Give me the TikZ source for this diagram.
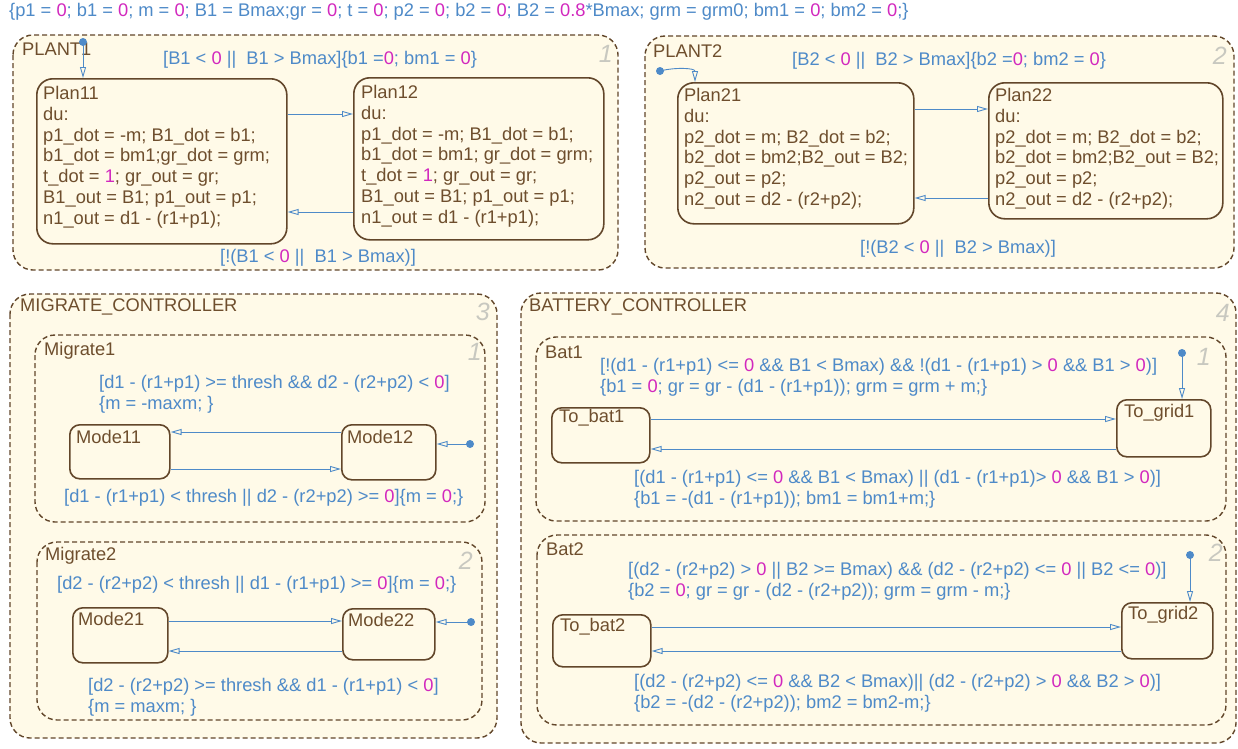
\documentclass[tikz,border=0pt]{standalone}
\usepackage{fontspec}
\setmainfont{Liberation Sans}
\usetikzlibrary{arrows.meta,calc}
\definecolor{brn}{RGB}{110,78,45}
\definecolor{bdr}{RGB}{98,70,42}
\definecolor{blu}{RGB}{78,138,200}
\definecolor{mag}{RGB}{210,40,190}
\definecolor{crm}{RGB}{255,250,232}
\definecolor{gry}{RGB}{200,200,192}
\newcommand\mz[1]{\textcolor{mag}{#1}}
\begin{document}
\begin{tikzpicture}[x=1pt,y=-1pt,
 font=\fontsize{18.3}{20.8}\selectfont,
 group/.style={draw=bdr, line width=1.4, dash pattern=on 5pt off 3pt, rounded corners=20, fill=crm},
 statebox/.style={draw=bdr, line width=1.6, rounded corners=16, fill=crm, inner sep=0, anchor=north west},
 modebox/.style={draw=bdr, line width=1.6, rounded corners=10, fill=crm, inner sep=0, anchor=north west},
 stxt/.style={text=brn, inner sep=0, anchor=north west, align=left},
 gtxt/.style={text=brn, inner sep=0, anchor=west},
 lbl/.style={text=blu, inner sep=0, anchor=west, align=left},
 num/.style={text=gry, font=\fontsize{25}{25}\selectfont\itshape, inner sep=0, anchor=east},
 tr/.style={draw=blu, line width=0.9, -{Triangle[open,length=11,width=6]}},
 dflt/.style={circle, fill=blu, inner sep=0, minimum size=8},
]
\fill[white] (0,0) rectangle (1238,748);
\useasboundingbox (0,0) rectangle (1238,748);

\node[lbl] (init) at (9,12) {\{p1 = \mz{0}; b1 = \mz{0}; m = \mz{0}; B1 = Bmax;gr = \mz{0}; t = \mz{0}; p2 = \mz{0}; b2 = \mz{0}; B2 = \mz{0.8}*Bmax; grm = grm0; bm1 = \mz{0}; bm2 = \mz{0};\}};

% ---------------- PLANT1
\draw[group] (13,35) rectangle (618,270);
\node[gtxt] (g1) at (22,49) {PLANT1};
\node[num] (n1) at (613,54) {1};
\node[statebox, minimum width=250, minimum height=165] (p11) at (36,78) {};
\node[stxt] (t11) at (43,86) {Plan11\\du:\\p1\_dot = -m; B1\_dot = b1;\\b1\_dot = bm1;gr\_dot = grm;\\t\_dot = \mz{1}; gr\_out = gr;\\B1\_out = B1; p1\_out = p1;\\n1\_out = d1 - (r1+p1);};
\node[statebox, minimum width=250, minimum height=162] (p12) at (353,77) {};
\node[stxt] (t12) at (361,85) {Plan12\\du:\\p1\_dot = -m; B1\_dot = b1;\\b1\_dot = bm1; gr\_dot = grm;\\t\_dot = \mz{1}; gr\_out = gr;\\B1\_out = B1; p1\_out = p1;\\n1\_out = d1 - (r1+p1);};
\coordinate (ya) at (0,114);
\coordinate (yb) at (0,212);
\draw[tr] (p11.east |- ya) -- (p12.west |- ya);
\draw[tr] (p12.west |- yb) -- (p11.east |- yb);
\node[lbl] (l11) at (163,60) {[B1 < \mz{0} ||~ B1 > Bmax]\{b1 =\mz{0}; bm1 = \mz{0}\}};
\node[lbl] (l12) at (220,258) {[!(B1 < \mz{0} ||~ B1 > Bmax)]};
\node[dflt] (d1) at (83,42) {};
\draw[tr] (d1.center) -- (d1 |- p11.north);

% ---------------- PLANT2
\draw[group] (645,36) rectangle (1234,268);
\node[gtxt] (g2) at (653,51) {PLANT2};
\node[num] (n2) at (1227,56) {2};
\node[statebox, minimum width=236, minimum height=141] (p21) at (677,82) {};
\node[stxt] (t21) at (684,88) {Plan21\\du:\\p2\_dot = m; B2\_dot = b2;\\b2\_dot = bm2;B2\_out = B2;\\p2\_out = p2;\\n2\_out = d2 - (r2+p2);};
\node[statebox, minimum width=234, minimum height=136] (p22) at (988,82) {};
\node[stxt] (t22) at (995,88) {Plan22\\du:\\p2\_dot = m; B2\_dot = b2;\\b2\_dot = bm2;B2\_out = B2;\\p2\_out = p2;\\n2\_out = d2 - (r2+p2);};
\coordinate (yc) at (0,109);
\coordinate (yd) at (0,198);
\draw[tr] (p21.east |- yc) -- (p22.west |- yc);
\draw[tr] (p22.west |- yd) -- (p21.east |- yd);
\node[lbl] (l21) at (792,61) {[B2 < \mz{0} ||~ B2 > Bmax]\{b2 =\mz{0}; bm2 = \mz{0}\}};
\node[lbl] (l22) at (860,249) {[!(B2 < \mz{0} ||~ B2 > Bmax)]};
\node[dflt] (d2) at (660,71) {};
\coordinate (e2) at (695,0);
\draw[tr] (d2.center) to[out=15,in=90] (e2 |- p21.north);

% ---------------- MIGRATE_CONTROLLER
\draw[group] (10,294) rectangle (497,738);
\node[gtxt] (g3) at (20,307) {MIGRATE\_CONTROLLER};
\node[num] (n3) at (490,312) {3};
% Migrate1
\draw[group] (35,335) rectangle (485,522);
\node[gtxt] (g31) at (44,351) {Migrate1};
\node[num] (n31) at (482,352) {1};
\node[modebox, minimum width=100, minimum height=54] (m11) at (69,424) {};
\node[gtxt] (tm11) at (76,437) {Mode11};
\node[modebox, minimum width=94, minimum height=55] (m12) at (341,424) {};
\node[gtxt] (tm12) at (347,437) {Mode12};
\coordinate (ye) at (0,432);
\coordinate (yf) at (0,469);
\draw[tr] (m12.west |- ye) -- (m11.east |- ye);
\draw[tr] (m11.east |- yf) -- (m12.west |- yf);
\node[lbl] (l31) at (99,394) {[d1 - (r1+p1) >= thresh \&\& d2 - (r2+p2) < \mz{0}]\\\{m = -maxm; \}};
\node[lbl] (l32) at (64,498) {[d1 - (r1+p1) < thresh || d2 - (r2+p2) >= \mz{0}]\{m = \mz{0};\}};
\node[dflt] (d3) at (470,444) {};
\draw[tr] (d3.center) -- (d3 -| m12.east);
% Migrate2
\draw[group] (37,542) rectangle (482,720);
\node[gtxt] (g32) at (45,556) {Migrate2};
\node[num] (n32) at (473,561) {2};
\node[modebox, minimum width=95, minimum height=55] (m21) at (72,607) {};
\node[gtxt] (tm21) at (78,619) {Mode21};
\node[modebox, minimum width=92, minimum height=51] (m22) at (342,608) {};
\node[gtxt] (tm22) at (348,620) {Mode22};
\coordinate (yg) at (0,621);
\coordinate (yh) at (0,651);
\draw[tr] (m21.east |- yg) -- (m22.west |- yg);
\draw[tr] (m22.west |- yh) -- (m21.east |- yh);
\node[lbl] (l33) at (57,585) {[d2 - (r2+p2) < thresh || d1 - (r1+p1) >= \mz{0}]\{m = \mz{0};\}};
\node[lbl] (l34) at (88,697) {[d2 - (r2+p2) >= thresh \&\& d1 - (r1+p1) < \mz{0}]\\\{m = maxm; \}};
\node[dflt] (d4) at (471,622) {};
\draw[tr] (d4.center) -- (d4 -| m22.east);

% ---------------- BATTERY_CONTROLLER
\draw[group] (521,293) rectangle (1236,743);
\node[gtxt] (g4) at (529,307) {BATTERY\_CONTROLLER};
\node[num] (n4) at (1230,313) {4};
% Bat1
\draw[group] (536,337) rectangle (1226,521);
\node[gtxt] (g41) at (545,352) {Bat1};
\node[num] (n41) at (1211,357) {1};
\node[modebox, minimum width=98, minimum height=55] (b11) at (551,407) {};
\node[gtxt] (tb11) at (559,418) {To\_bat1};
\node[modebox, minimum width=94, minimum height=57] (b12) at (1116,399) {};
\node[gtxt] (tb12) at (1124,413) {To\_grid1};
\coordinate (yi) at (0,419);
\coordinate (yj) at (0,449);
\draw[tr] (b11.east |- yi) -- (b12.west |- yi);
\draw[tr] (b12.west |- yj) -- (b11.east |- yj);
\node[lbl] (l41) at (600,377) {[!(d1 - (r1+p1) <= \mz{0} \&\& B1 < Bmax) \&\& !(d1 - (r1+p1) > \mz{0} \&\& B1 > \mz{0})]\\\{b1 = \mz{0}; gr = gr - (d1 - (r1+p1)); grm = grm + m;\}};
\node[lbl] (l42) at (634,489) {[(d1 - (r1+p1) <= \mz{0} \&\& B1 < Bmax) || (d1 - (r1+p1)> \mz{0} \&\& B1 > \mz{0})]\\\{b1 = -(d1 - (r1+p1)); bm1 = bm1+m;\}};
\node[dflt] (d5) at (1182,353) {};
\draw[tr] (d5.center) -- (d5 |- b12.north);
% Bat2
\draw[group] (537,535) rectangle (1226,725);
\node[gtxt] (g42) at (546,549) {Bat2};
\node[num] (n42) at (1223,553) {2};
\node[modebox, minimum width=98, minimum height=52] (b21) at (552,614) {};
\node[gtxt] (tb21) at (560,627) {To\_bat2};
\node[modebox, minimum width=91, minimum height=56] (b22) at (1121,602) {};
\node[gtxt] (tb22) at (1128,615) {To\_grid2};
\coordinate (yk) at (0,627);
\coordinate (yl) at (0,651);
\draw[tr] (b21.east |- yk) -- (b22.west |- yk);
\draw[tr] (b22.west |- yl) -- (b21.east |- yl);
\node[lbl] (l43) at (628,581) {[(d2 - (r2+p2) > \mz{0} || B2 >= Bmax) \&\& (d2 - (r2+p2) <= \mz{0} || B2 <= \mz{0})]\\\{b2 = \mz{0}; gr = gr - (d2 - (r2+p2)); grm = grm - m;\}};
\node[lbl] (l44) at (634,693) {[(d2 - (r2+p2) <= \mz{0} \&\& B2 < Bmax)|| (d2 - (r2+p2) > \mz{0} \&\& B2 > \mz{0})]\\\{b2 = -(d2 - (r2+p2)); bm2 = bm2-m;\}};
\node[dflt] (d6) at (1190,555) {};
\draw[tr] (d6.center) -- (d6 |- b22.north);
\end{tikzpicture}
\end{document}
